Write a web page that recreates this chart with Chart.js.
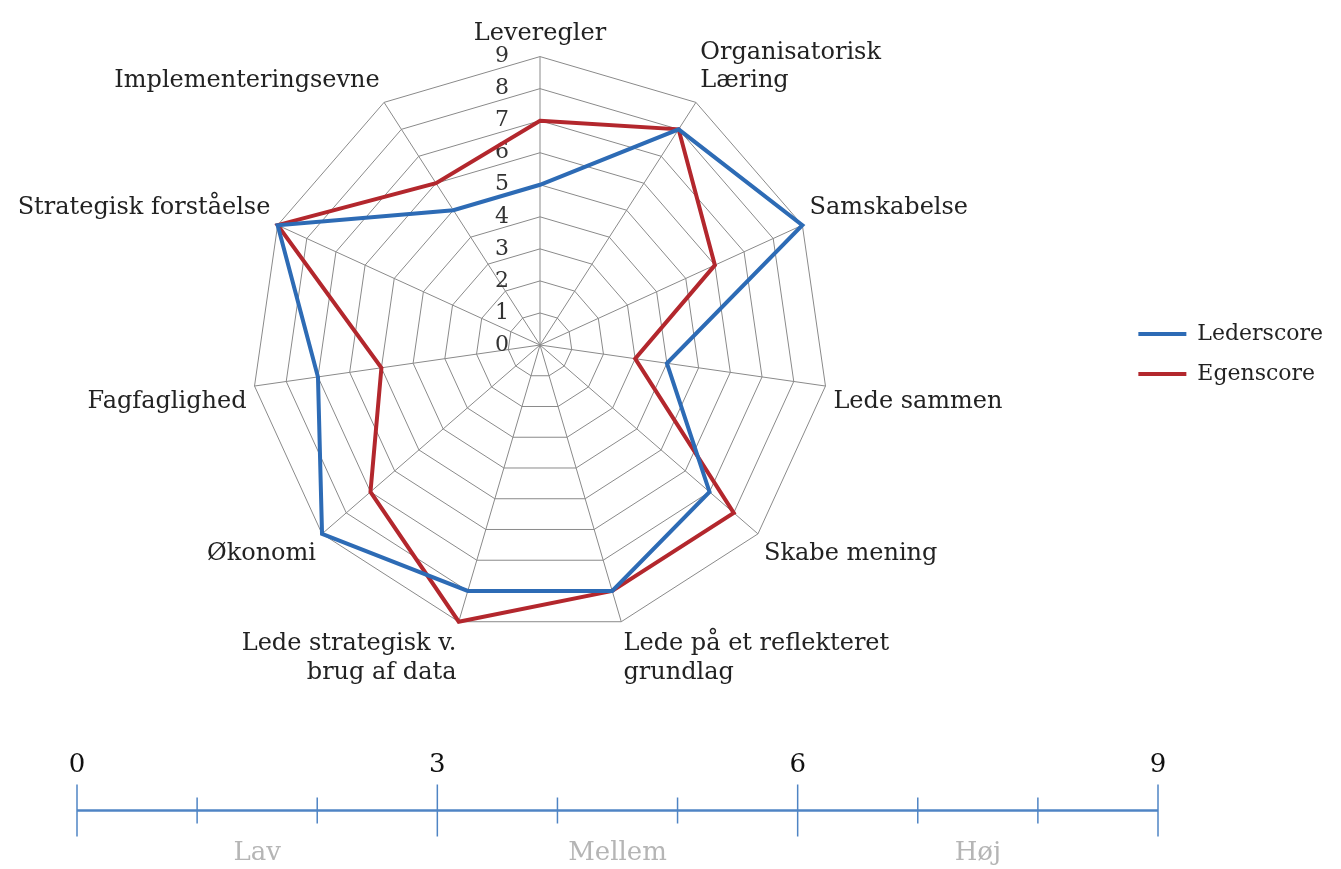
<!DOCTYPE html>
<html lang="da">
<head>
<meta charset="utf-8">
<script src="https://cdn.jsdelivr.net/npm/chart.js@4.4.1/dist/chart.umd.min.js"></script>
<style>
  html, body { margin: 0; padding: 0; background: #fff; }
  body { width: 1341px; height: 869px; position: relative; overflow: hidden; }
  #radarWrap { position: absolute; left: -40px; top: 0; width: 1381px; height: 696px; }
  #scaleWrap { position: absolute; left: 0; top: 740px; width: 1341px; height: 129px; }
</style>
</head>
<body>
<div id="radarWrap"><canvas id="radarChart"></canvas></div>
<div id="scaleWrap"><canvas id="scaleChart"></canvas></div>
<script>
// kompetencer (radar akser)
const categories = [
  "Leveregler",
  ["Organisatorisk", "Læring"],
  "Samskabelse",
  "Lede sammen",
  "Skabe mening",
  ["Lede på et reflekteret", "grundlag"],
  ["Lede strategisk v.", "brug af data"],
  "Økonomi",
  "Fagfaglighed",
  "Strategisk forståelse",
  "Implementeringsevne"
];
const lederscore = [5, 8, 9, 4, 7, 8, 8, 9, 7, 9, 5];
const egenscore  = [7, 8, 6, 3, 8, 8, 9, 7, 5, 9, 6];
const radarTicks = [0, 1, 2, 3, 4, 5, 6, 7, 8, 9];

// skala nederst
const scaleLabels = [0, 3, 6, 9];
const minorTicks = [1, 2, 4, 5, 7, 8];
const zoneNames = ["Lav", "Mellem", "Høj"];
const zoneCenters = [1.5, 4.5, 7.5];

const SERIF = "'DejaVu Serif', 'Liberation Serif', serif";
const BLUE = "#2d6bb5";
const RED = "#b3272d";
const AXIS = "#4f84c4";

// tal 0-9 lidt til venstre for den lodrette akse
const tickLabels = {
  id: "tickLabels",
  beforeDatasetsDraw(chart) {
    const s = chart.scales.r;
    const ctx = chart.ctx;
    ctx.save();
    ctx.font = "22px " + SERIF;
    ctx.fillStyle = "#333";
    ctx.textAlign = "center";
    ctx.textBaseline = "middle";
    radarTicks.forEach(v => {
      const d = s.getDistanceFromCenterForValue(v);
      ctx.fillText(String(v), s.xCenter - 38, s.yCenter - d);
    });
    ctx.restore();
  }
};

new Chart(document.getElementById("radarChart"), {
  type: "radar",
  data: {
    labels: categories,
    datasets: [
      { label: "Lederscore", data: lederscore, borderColor: BLUE, backgroundColor: BLUE, borderWidth: 4, pointRadius: 0, fill: false, tension: 0 },
      { label: "Egenscore", data: egenscore, borderColor: RED, backgroundColor: RED, borderWidth: 4, pointRadius: 0, fill: false, tension: 0 }
    ]
  },
  options: {
    responsive: true,
    maintainAspectRatio: false,
    animation: false,
    layout: { padding: { top: 12, right: 8, left: 0, bottom: 0 } },
    plugins: {
      legend: {
        position: "right",
        labels: {
          usePointStyle: true,
          pointStyle: "line",
          pointStyleWidth: 48,
          color: "#222",
          padding: 18,
          font: { family: SERIF, size: 22 }
        }
      },
      tooltip: { enabled: false }
    },
    scales: {
      r: {
        min: 0,
        max: 9,
        ticks: { stepSize: 1, display: false },
        grid: { color: "#8a8a8a", lineWidth: 1 },
        angleLines: { color: "#8a8a8a", lineWidth: 1 },
        pointLabels: { color: "#222", padding: 8, font: { family: SERIF, size: 24 } }
      }
    }
  },
  plugins: [tickLabels]
});

new Chart(document.getElementById("scaleChart"), {
  type: "scatter",
  data: {
    datasets: [
      { data: [{ x: 0, y: 0 }, { x: 9, y: 0 }], showLine: true, borderColor: AXIS, borderWidth: 2.5, pointRadius: 0, clip: false },
      { data: scaleLabels.map(v => ({ x: v, y: 0 })), pointStyle: "line", pointRotation: 90, pointRadius: 26, borderColor: AXIS, borderWidth: 1.5, clip: false },
      { data: minorTicks.map(v => ({ x: v, y: 0 })), pointStyle: "line", pointRotation: 90, pointRadius: 13, borderColor: AXIS, borderWidth: 1.5, clip: false }
    ]
  },
  options: {
    responsive: true,
    maintainAspectRatio: false,
    animation: false,
    layout: { padding: { top: 8, left: 77, right: 183, bottom: 0 } },
    plugins: { legend: { display: false }, tooltip: { enabled: false } },
    scales: {
      x: {
        type: "linear",
        position: "top",
        min: 0,
        max: 9,
        grid: { display: false, drawTicks: false },
        border: { display: false },
        afterBuildTicks: s => { s.ticks = scaleLabels.map(v => ({ value: v })); },
        ticks: { color: "#111", padding: 2, autoSkip: false, font: { family: SERIF, size: 26 } }
      },
      x2: {
        type: "linear",
        position: "bottom",
        min: 0,
        max: 9,
        grid: { display: false, drawTicks: false },
        border: { display: false },
        afterBuildTicks: s => { s.ticks = zoneCenters.map(v => ({ value: v })); },
        ticks: { color: "#b5b5b5", padding: 0, autoSkip: false, font: { family: SERIF, size: 26 }, callback: (v, i) => zoneNames[i] }
      },
      y: { min: -1, max: 1, display: false }
    }
  }
});
</script>
</body>
</html>
